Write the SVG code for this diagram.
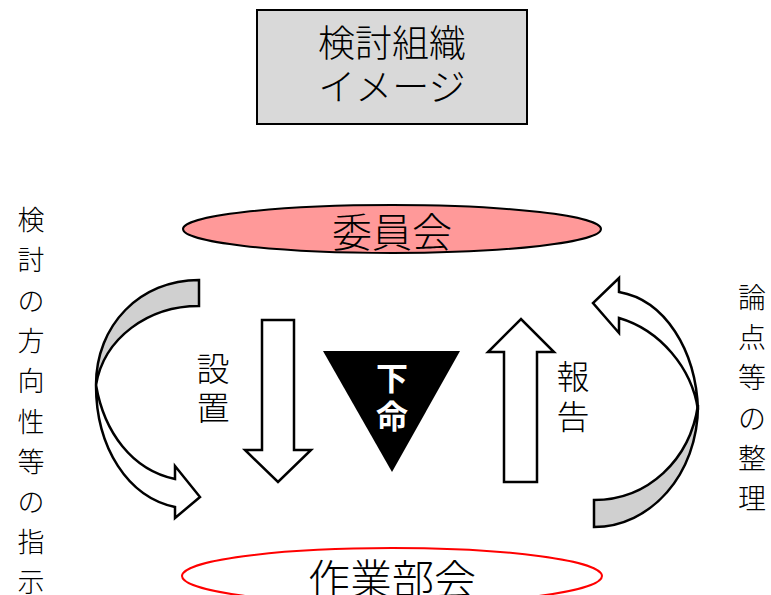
<svg xmlns="http://www.w3.org/2000/svg" width="771" height="595" viewBox="0 0 771 595">
<style>
.t{font-family:"Noto Sans CJK JP","Noto Sans CJK SC",sans-serif;font-weight:300;fill:#000;text-anchor:middle;dominant-baseline:central}
.s{stroke:#000;stroke-width:2.5;stroke-linejoin:miter}
</style>
<rect width="771" height="595" fill="#fff"/>
<g id="title">
<rect x="257" y="10" width="270" height="114" fill="#d9d9d9" stroke="#000" stroke-width="2"/>
<text class="t" x="392" y="41" font-size="37">検討組織</text>
<text class="t" x="392" y="85" font-size="37">イメージ</text>
</g>
<g id="committee">
<ellipse cx="392" cy="229" rx="209" ry="24" fill="#ff9999" stroke="#000" stroke-width="2"/>
<text class="t" x="392" y="230" font-size="40">委員会</text>
</g>
<g id="workgroup">
<ellipse cx="392" cy="576" rx="210" ry="28" fill="#fff" stroke="#ff0000" stroke-width="2"/>
<text class="t" x="392" y="576" font-size="42">作業部会</text>
</g>
<g id="connectors">
<g id="arrow-setchi">
<path class="s" fill="#fff" d="M262,320 L294,320 L294,450 L311,450 L278,482 L245,450 L262,450 Z"/>
<text class="t" font-size="33"><tspan x="213" y="367">設</tspan><tspan x="213" y="406">置</tspan></text>
</g>
<g id="arrow-houkoku">
<path class="s" fill="#fff" d="M504,482 L537,482 L537,352 L554,352 L521,319 L488,352 L504,352 Z"/>
<text class="t" font-size="33"><tspan x="573" y="375">報</tspan><tspan x="573" y="415">告</tspan></text>
</g>
<g id="kamei">
<path d="M323,351 L460,351 L392,472 Z" fill="#000"/>
<text class="t" font-size="32" style="fill:#fff;font-weight:bold"><tspan x="392" y="376">下</tspan><tspan x="392" y="414">命</tspan></text>
</g>
<g id="curve-left">
<path class="s" fill="#d0d0d0" d="M199,280 L199,306 C148,306 104,338 96,385 C96,325 140,280 199,280 Z"/>
<path class="s" fill="#fff" d="M96,385 C96,448 128,497 175,507 L175,518 L200,497 L175,466 L175,479 C132,470 104,432 96,385 Z"/>
</g>
<g id="curve-right">
<path class="s" fill="#fff" d="M698,410 C696,350 665,300 619,292 L619,278 L593,303 L619,333 L619,318 C660,330 692,368 698,410 Z"/>
<path class="s" fill="#d0d0d0" d="M698,405 C698,475 650,527 594,527 L594,500 C648,500 690,460 698,405 Z"/>
</g>
</g>
<g id="label-left">
<text class="t" font-size="27"><tspan x="31" y="218">検</tspan><tspan x="31" y="258">討</tspan><tspan x="31" y="299">の</tspan><tspan x="31" y="339">方</tspan><tspan x="31" y="379">向</tspan><tspan x="31" y="420">性</tspan><tspan x="31" y="460">等</tspan><tspan x="31" y="500">の</tspan><tspan x="31" y="540">指</tspan><tspan x="31" y="580">示</tspan></text>
</g>
<g id="label-right">
<text class="t" font-size="28"><tspan x="752" y="296">論</tspan><tspan x="752" y="336">点</tspan><tspan x="752" y="376">等</tspan><tspan x="752" y="417">の</tspan><tspan x="752" y="457">整</tspan><tspan x="752" y="497">理</tspan></text>
</g>
</svg>
